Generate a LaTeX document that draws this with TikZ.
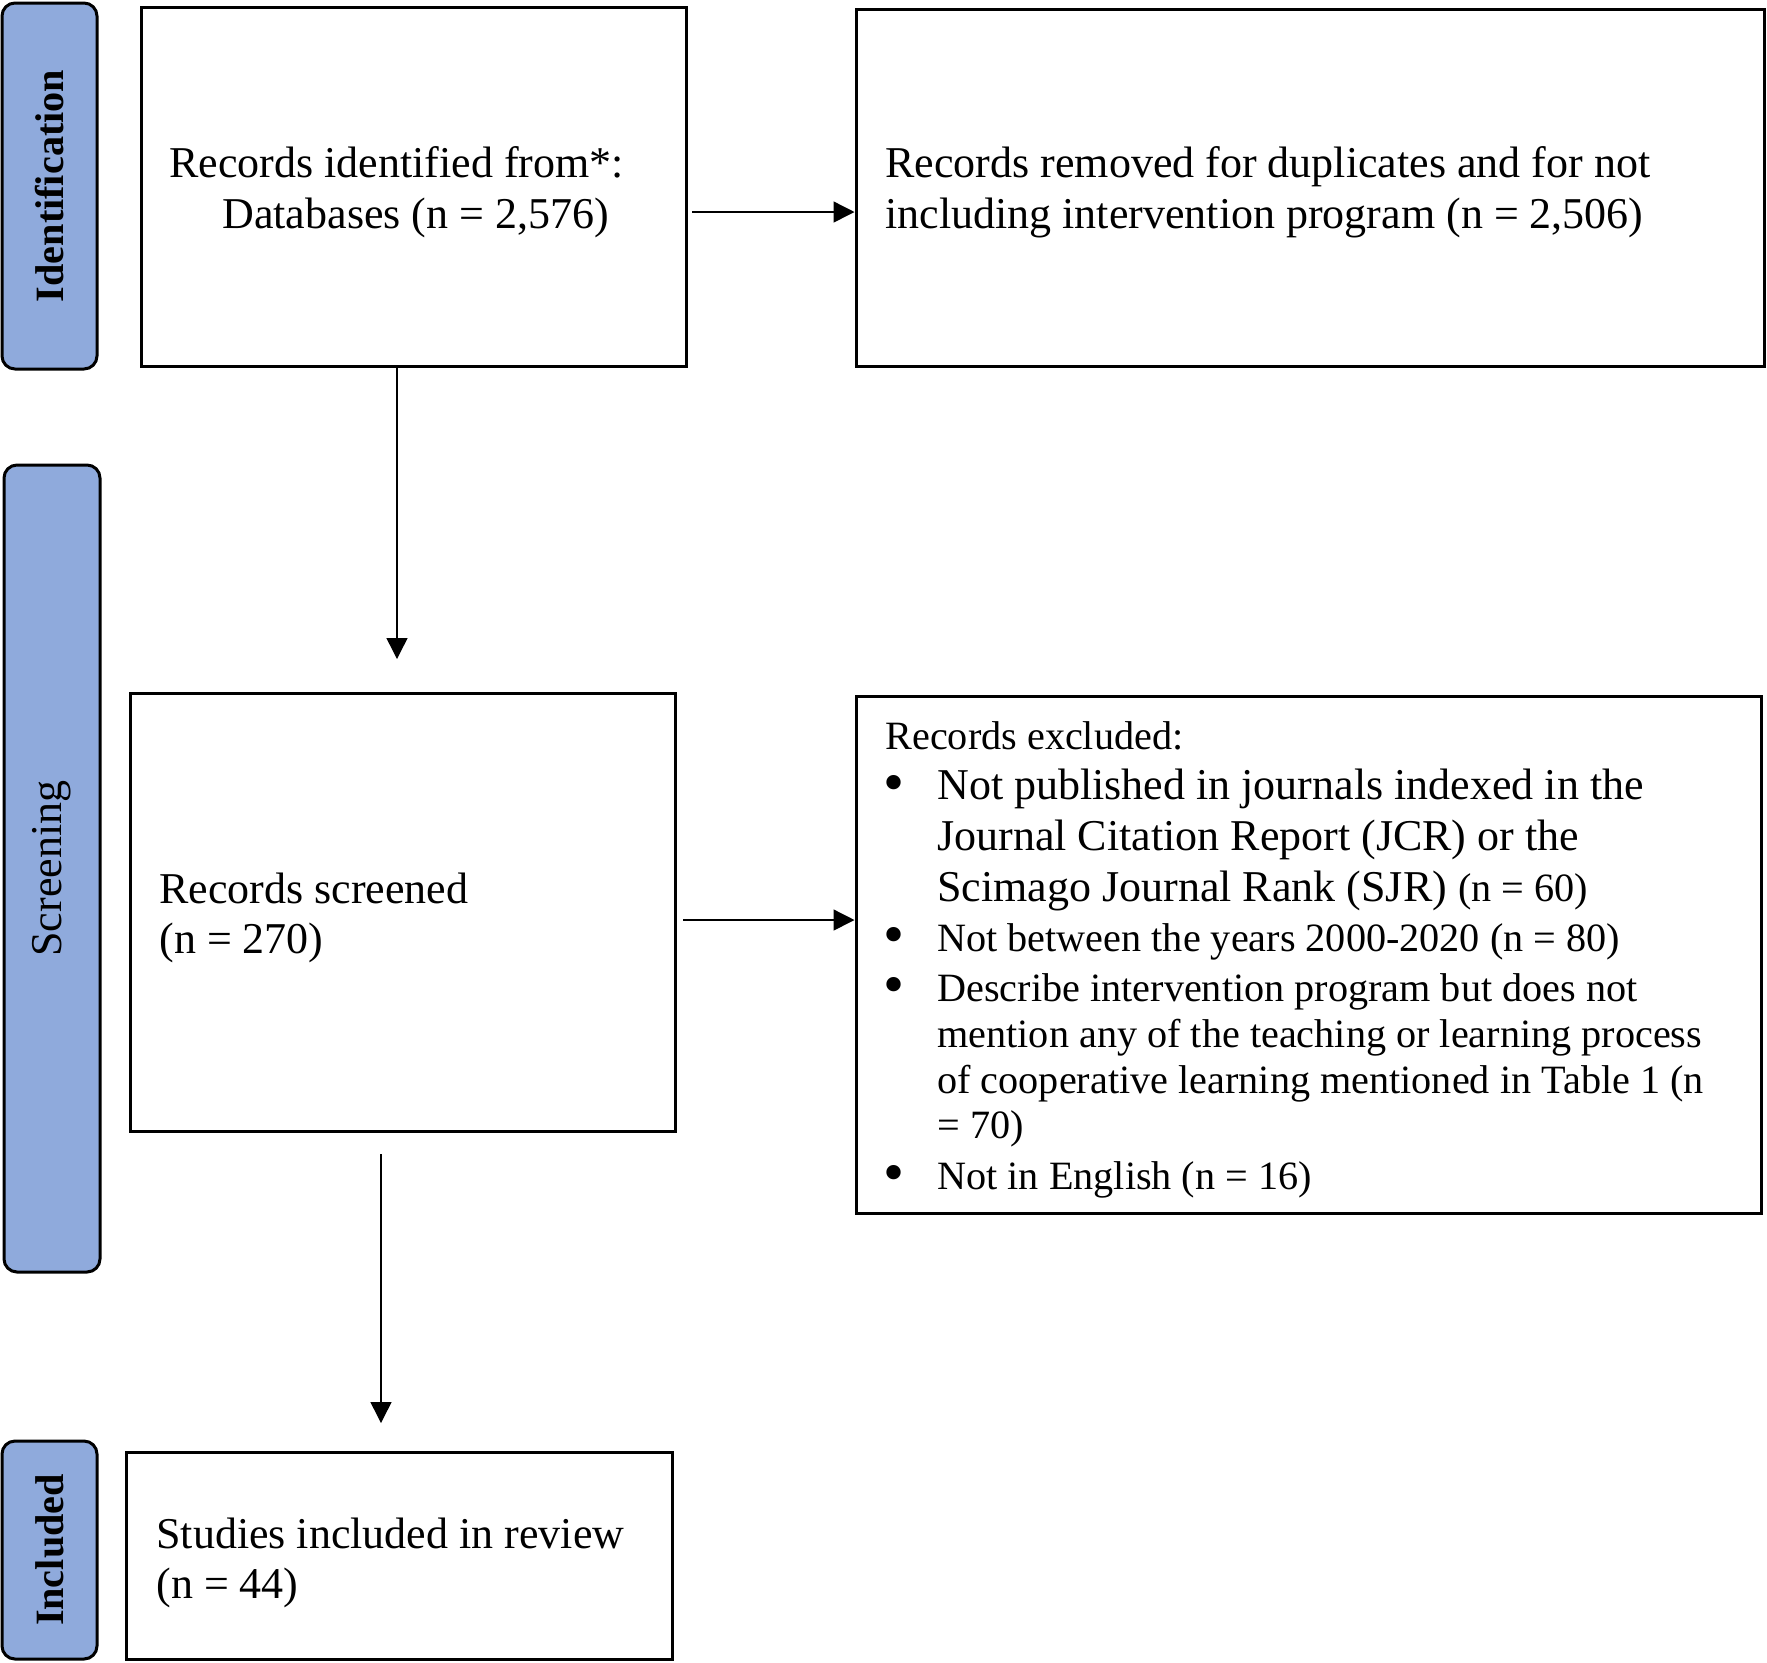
\documentclass[tikz,border=0pt]{standalone}
\usepackage{fontspec}
\setmainfont{Liberation Serif}
\usetikzlibrary{arrows.meta,fit}
\definecolor{tabblue}{HTML}{8FAADC}
\newcommand{\twelvesz}{\fontsize{22pt}{26pt}\selectfont}
\newcommand{\elevensz}{\fontsize{20.1pt}{23pt}\selectfont}
\newcommand{\bulletsz}{\fontsize{30pt}{32pt}\selectfont}
\begin{document}
\begin{tikzpicture}[x=0.5pt,y=-0.5pt,
  box/.style={draw=black,line width=1.5pt,inner sep=0pt,fill=white},
  tab/.style={draw=black,line width=1.5pt,fill=tabblue,rounded corners=6.5pt,inner sep=0pt},
  txt/.style={anchor=base west,inner sep=0pt,font=\twelvesz},
  stxt/.style={anchor=base west,inner sep=0pt,font=\elevensz},
  bul/.style={anchor=center,inner sep=0pt,font=\bulletsz},
  arr/.style={line width=0.7pt,-{Triangle[length=10.5pt,width=10.5pt]}},
  tablabel/.style={rotate=90,inner sep=0pt}]

\useasboundingbox (0,0) rectangle (1767,1662);

% phase tabs
\node[tab,fit={(2,3)(97,369)}] (tabI) {};
\node[tablabel,font=\elevensz\bfseries] (labI) at (tabI.center) {Identification};
\node[tab,fit={(4,465)(100,1272)}] (tabS) {};
\node[tablabel,font=\twelvesz] (labS) at (tabS.center) {Screening};
\node[tab,fit={(2,1441)(97,1659)}] (tabC) {};
\node[tablabel,font=\elevensz\bfseries] (labC) at (tabC.center) {Included};

% boxes
\node[box,fit={(141,7)(686,366)}] (b1) {};
\node[box,fit={(856,9)(1764,366)}] (b2) {};
\node[box,fit={(130,693)(675,1131)}] (b3) {};
\node[box,fit={(856,696)(1761,1213)}] (b4) {};
\node[box,fit={(126,1452)(672,1659)}] (b5) {};

% texts
\node[txt] (b1a) at (169,177) {Records identified from*:};
\node[txt] (b1b) at (222,228) {Databases (n = 2,576)};
\node[txt] (b2a) at (885,177) {Records removed for duplicates and for not};
\node[txt] (b2b) at (885,228) {including intervention program (n = 2,506)};
\node[txt] (b3a) at (159,903) {Records screened};
\node[txt] (b3b) at (159,953) {(n = 270)};
\node[txt] (b5a) at (156,1548) {Studies included in review};
\node[txt] (b5b) at (156,1598) {(n = 44)};

\node[stxt] (b4h) at (885,749) {Records excluded:};
\node[bul] (u1) at (894,789) {•};
\node[txt] (i1a) at (937,799) {Not published in journals indexed in the};
\node[txt] (i1b) at (937,850) {Journal Citation Report (JCR) or the};
\node[txt] (i1c) at (937,901) {Scimago Journal Rank (SJR) {\elevensz(n = 60)}};
\node[bul] (u2) at (894,941) {•};
\node[stxt] (i2a) at (937,951) {Not between the years 2000-2020 (n = 80)};
\node[bul] (u3) at (894,991) {•};
\node[stxt] (i3a) at (937,1001) {Describe intervention program but does not};
\node[stxt] (i3b) at (937,1047) {mention any of the teaching or learning process};
\node[stxt] (i3c) at (937,1093) {of cooperative learning mentioned in Table 1 (n};
\node[stxt] (i3d) at (937,1138) {= 70)};
\node[bul] (u4) at (894,1179) {•};
\node[stxt] (i4a) at (937,1189) {Not in English (n = 16)};

% connectors
\coordinate (r1) at (692,212);
\draw[arr] (r1) -- (r1 -| b2.west);
\coordinate (d1) at (397,659);
\draw[arr] (b1.south -| d1) -- (d1);
\coordinate (r2) at (683,920);
\draw[arr] (r2) -- (r2 -| b4.west);
\coordinate (d2s) at (381,1154);
\coordinate (d2e) at (381,1423);
\draw[arr] (d2s) -- (d2e);
\end{tikzpicture}
\end{document}
